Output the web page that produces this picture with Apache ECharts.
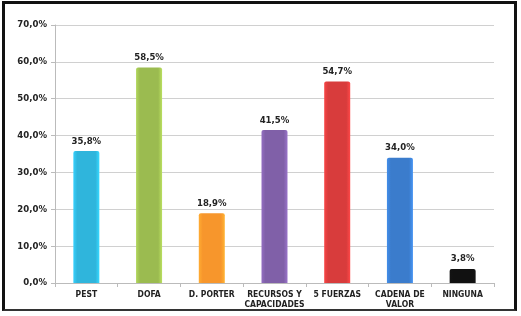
<!DOCTYPE html>
<html><head><meta charset="utf-8">
<script src="https://cdn.jsdelivr.net/npm/echarts@6/dist/echarts.min.js"></script>
<style>html,body{margin:0;padding:0;background:#fff}#c{width:521px;height:316px}
#frame{position:absolute;left:2px;top:1px;width:509px;height:305px;border:3px solid #111;border-bottom:2px solid #333;pointer-events:none}</style>
</head><body><div id="c"></div><div id="frame"></div>
<script>
const categories = ['PEST','DOFA','D. PORTER','RECURSOS Y\nCAPACIDADES','5 FUERZAS','CADENA DE\nVALOR','NINGUNA'];
const values = [35.8, 58.5, 18.9, 41.5, 54.7, 34.0, 3.8];
const colors = ['#2fb5dc','#9bbb50','#f7962c','#8060a8','#d83c3c','#3b7ccc','#111111'];
const yTicks = [0,10,20,30,40,50,60,70];

function grad(c){
  return new echarts.graphic.LinearGradient(0,0,1,0,[
    {offset:0,color:echarts.color.lift(c,-0.15)},
    {offset:0.15,color:c},
    {offset:0.85,color:c},
    {offset:1,color:echarts.color.lift(c,-0.2)}]);
}
const chart = echarts.init(document.getElementById('c'));
chart.setOption({
  animation:false,
  grid:{left:55,right:27,top:25,bottom:33},
  xAxis:{type:'category',data:categories,
    axisLine:{lineStyle:{color:'#bbb'}},
    axisTick:{show:true,length:4,lineStyle:{color:'#bbb'}},
    axisLabel:{color:'#222',fontWeight:'bold',fontSize:8.5,fontFamily:'DejaVu Sans Condensed, Liberation Sans',margin:7,lineHeight:10,interval:0}},
  yAxis:{type:'value',min:0,max:70,interval:10,
    axisLine:{show:true,lineStyle:{color:'#bbb'}},
    axisTick:{show:true,length:4,lineStyle:{color:'#bbb'}},
    splitLine:{lineStyle:{color:'#d0d0d0'}},
    axisLabel:{color:'#222',fontWeight:'bold',fontSize:9.5,fontFamily:'DejaVu Sans Condensed, Liberation Sans',margin:8,
      formatter:v=>v.toFixed(1).replace('.',',')+'%'}},
  series:[{type:'bar',barWidth:26,
    data:values.map((v,i)=>({value:v,itemStyle:{color:grad(colors[i]),borderRadius:[2,2,0,0]}})),
    label:{show:true,position:'top',distance:5,color:'#222',fontWeight:'bold',fontSize:9.5,
      fontFamily:'DejaVu Sans Condensed, Liberation Sans',
      formatter:p=>p.value.toFixed(1).replace('.',',')+'%'}}]
});
</script></body></html>
